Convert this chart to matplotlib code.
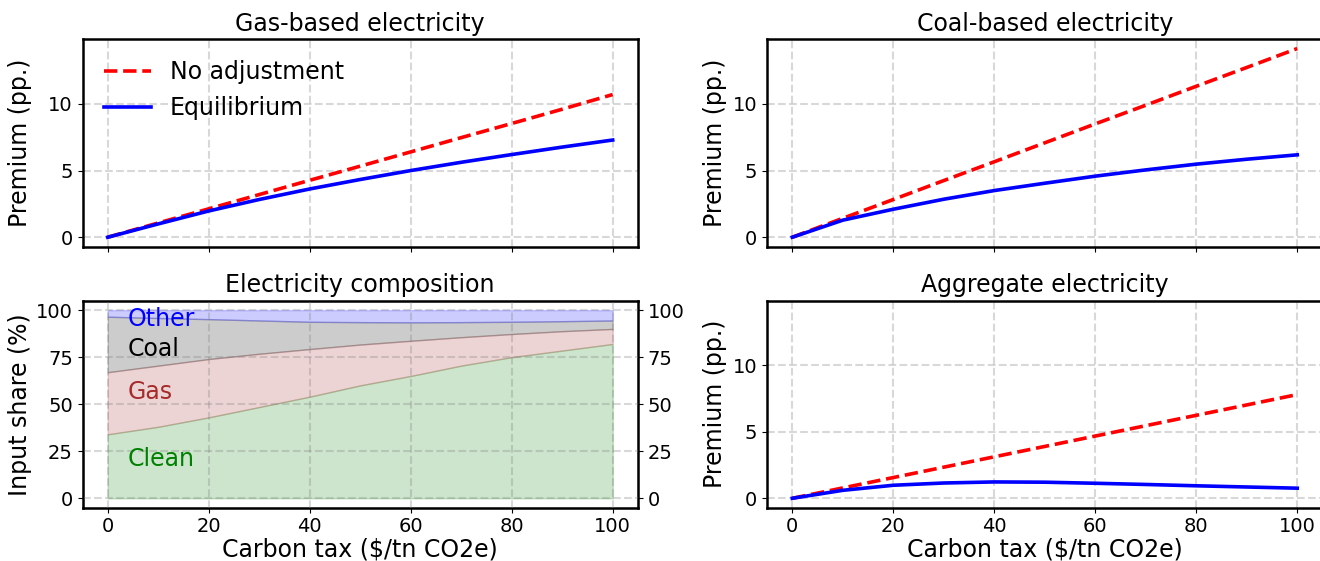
import matplotlib
matplotlib.use("Agg")
import matplotlib.pyplot as plt
import numpy as np

# carbon tax grid ($/tn CO2e)
tax = [0, 10, 20, 30, 40, 50, 60, 70, 80, 90, 100]

# premium (pp.)
gas_noadj = [0, 1.07, 2.13, 3.2, 4.27, 5.33, 6.4, 7.47, 8.53, 9.6, 10.7]
gas_eq = [0, 1.0, 1.97, 2.83, 3.62, 4.33, 5.0, 5.62, 6.2, 6.76, 7.29]
coal_noadj = [0, 1.42, 2.83, 4.25, 5.66, 7.08, 8.5, 9.9, 11.32, 12.73, 14.15]
coal_eq = [0, 1.28, 2.1, 2.85, 3.5, 4.05, 4.58, 5.05, 5.48, 5.85, 6.18]
agg_noadj = [0, 0.78, 1.56, 2.34, 3.12, 3.9, 4.68, 5.46, 6.24, 7.02, 7.8]
agg_eq = [0, 0.6, 0.98, 1.15, 1.23, 1.21, 1.13, 1.04, 0.94, 0.85, 0.76]

# electricity input shares (%)
share_clean = [34, 38, 43, 48.5, 54, 60, 65, 70.5, 75, 78.5, 82]
share_gas = [33, 32.5, 31, 28.3, 25.3, 21.7, 18.7, 15.1, 12.3, 10.3, 8]
share_coal = [29.5, 25.3, 21.2, 17.7, 14.5, 11.9, 9.8, 8.0, 6.5, 5.3, 4.5]
share_other = [3.5, 4.2, 4.8, 5.5, 6.2, 6.4, 6.5, 6.4, 6.2, 5.9, 5.5]

FS = 17
TS = 14

fig, ax = plt.subplots(2, 2, figsize=(13.2, 5.61), dpi=100)
pos = {(0, 0): [0.0625, 0.5603, 0.4208, 0.370],
       (0, 1): [0.5811, 0.5603, 0.4208, 0.370],
       (1, 0): [0.0625, 0.0950, 0.4208, 0.369],
       (1, 1): [0.5811, 0.0950, 0.4208, 0.369]}
for k, p in pos.items():
    ax[k].set_position(p)

for a in ax.flat:
    if a is not ax[1, 0]:
        a.sharex(ax[1, 0])
ax[0, 1].sharey(ax[0, 0])
ax[1, 1].sharey(ax[0, 0])


def style(a):
    a.grid(True, ls='--', lw=1.5, color='grey', alpha=0.3)
    a.tick_params(labelsize=TS)
    for s in a.spines.values():
        s.set_linewidth(1.8)


def premium(a, noadj, eq, title, legend=False):
    a.plot(tax, noadj, color='red', ls='--', lw=2.6, label='No adjustment')
    a.plot(tax, eq, color='blue', lw=2.6, label='Equilibrium')
    a.set_title(title, fontsize=FS)
    a.set_ylabel('Premium (pp.)', fontsize=FS)
    a.set_yticks([0, 5, 10])
    style(a)
    if legend:
        a.legend(loc='upper left', frameon=False, fontsize=FS)


premium(ax[0, 0], gas_noadj, gas_eq, 'Gas-based electricity', legend=True)
premium(ax[0, 1], coal_noadj, coal_eq, 'Coal-based electricity')
premium(ax[1, 1], agg_noadj, agg_eq, 'Aggregate electricity')

for a in ax[0]:
    a.tick_params(axis='x', labelbottom=False)
for a in ax[1]:
    a.set_xlabel('Carbon tax ($/tn CO2e)', fontsize=FS, labelpad=1)
ax[1, 0].set_xticks([0, 20, 40, 60, 80, 100])

# composition panel
comp = ax[1, 0]
clean = np.array(share_clean)
gas_top = clean + np.array(share_gas)
coal_top = gas_top + np.array(share_coal)
other_top = coal_top + np.array(share_other)
layers = [(0 * clean, clean, 'green'), (clean, gas_top, 'brown'),
          (gas_top, coal_top, 'black'), (coal_top, other_top, 'blue')]
for lo, hi, c in layers:
    comp.fill_between(tax, lo, hi, facecolor=c, alpha=0.2, edgecolor=c, lw=1)
comp.text(4, 95.5, 'Other', color='blue', fontsize=FS, va='center')
comp.text(4, 79.5, 'Coal', color='black', fontsize=FS, va='center')
comp.text(4, 56.5, 'Gas', color='brown', fontsize=FS, va='center')
comp.text(4, 21, 'Clean', color='green', fontsize=FS, va='center')
comp.set_title('Electricity composition', fontsize=FS)
comp.set_ylabel('Input share (%)', fontsize=FS)
comp.set_yticks([0, 25, 50, 75, 100])
comp.set_ylim(-5, 105)
comp.set_axisbelow(False)
style(comp)
comp2 = comp.twinx()
comp2.set_position(pos[(1, 0)])
comp2.set_ylim(-5, 105)
comp2.set_yticks([0, 25, 50, 75, 100])
comp2.tick_params(labelsize=TS)

ax[1, 0].set_xlim(-5, 105)

# y label placement (x is the label's right edge)
for k in [(0, 0), (1, 0)]:
    ax[k].yaxis.set_label_coords(-0.091, 0.5)
for k in [(0, 1), (1, 1)]:
    ax[k].yaxis.set_label_coords(-0.072, 0.5)

plt.savefig('out.png', dpi=100)
